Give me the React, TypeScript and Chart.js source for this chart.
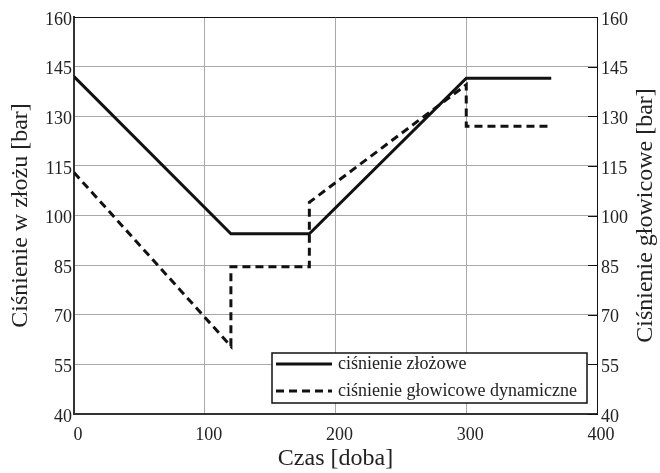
import React, { useEffect, useRef } from "react";
import { Chart, registerables } from "chart.js";

Chart.register(...registerables);

const solidX = [0, 120, 180, 300, 365];
const solidY = [142, 94.5, 94.5, 141.5, 141.5];
const dashX = [0, 120, 120, 180, 180, 300, 300, 365];
const dashY = [113, 60.5, 84.5, 84.5, 104, 139.5, 127, 127];
const seriesLabels = ["ciśnienie złożowe", "ciśnienie głowicowe dynamiczne"];
const xTitle = "Czas [doba]";
const yTitle = "Ciśnienie w złożu [bar]";
const y2Title = "Ciśnienie głowicowe [bar]";
const xMin = 0, xMax = 400, xStep = 100;
const yMin = 40, yMax = 160, yStep = 15;

const FONT = "'Liberation Serif', 'Times New Roman', serif";
const TEXT = "#222";

const extras = {
  id: "extras",
  afterDraw(chart: any) {
    const ctx = chart.ctx;
    const a = chart.chartArea;
    ctx.save();
    ctx.strokeStyle = "#111";
    ctx.lineWidth = 1;
    ctx.beginPath();
    ctx.moveTo(a.left, a.top + 0.5);
    ctx.lineTo(a.right, a.top + 0.5);
    ctx.stroke();
    const y2 = chart.scales.y2;
    y2.ticks.forEach((t: any) => {
      const py = Math.round(y2.getPixelForValue(t.value)) + 0.5;
      ctx.beginPath();
      ctx.moveTo(a.right - 9, py);
      ctx.lineTo(a.right, py);
      ctx.stroke();
    });
    ctx.fillStyle = TEXT;
    ctx.font = `24px ${FONT}`;
    ctx.textAlign = "center";
    ctx.textBaseline = "middle";
    ctx.translate(646, (a.top + a.bottom) / 2);
    ctx.rotate(-Math.PI / 2);
    ctx.fillText(y2Title, 0, 0);
    ctx.restore();

    ctx.save();
    const bx = 272, by = 353, bw = 315, bh = 50;
    ctx.fillStyle = "#fff";
    ctx.fillRect(bx, by, bw, bh);
    ctx.strokeStyle = "#111";
    ctx.lineWidth = 1.5;
    ctx.strokeRect(bx, by, bw, bh);
    const rows = [by + 11, by + 38];
    chart.data.datasets.forEach((ds: any, i: number) => {
      const ry = rows[i];
      ctx.strokeStyle = "#111";
      ctx.lineWidth = 3;
      ctx.setLineDash(ds.borderDash || []);
      ctx.beginPath();
      ctx.moveTo(bx + 4, ry);
      ctx.lineTo(bx + 60, ry);
      ctx.stroke();
      ctx.setLineDash([]);
      ctx.fillStyle = TEXT;
      ctx.font = `18px ${FONT}`;
      ctx.textAlign = "left";
      ctx.textBaseline = "middle";
      ctx.fillText(ds.label, bx + 66, ry);
    });
    ctx.restore();
  },
};

export default function App() {
  const ref = useRef<HTMLCanvasElement>(null);
  useEffect(() => {
    if (!ref.current) return;
    const chart = new Chart(ref.current, {
      type: "line",
      data: {
        datasets: [
          {
            label: seriesLabels[0],
            data: solidX.map((x, i) => ({ x, y: solidY[i] })),
            borderColor: "#111",
            borderWidth: 3,
            pointRadius: 0,
            fill: false,
            tension: 0,
            yAxisID: "y",
          },
          {
            label: seriesLabels[1],
            data: dashX.map((x, i) => ({ x, y: dashY[i] })),
            borderColor: "#111",
            borderWidth: 3,
            borderDash: [8, 5],
            pointRadius: 0,
            fill: false,
            tension: 0,
            yAxisID: "y2",
          },
        ],
      },
      options: {
        animation: false,
        responsive: false,
        devicePixelRatio: 1,
        layout: { padding: { top: 17, left: 0, right: 0, bottom: 0 } },
        plugins: { legend: { display: false }, tooltip: { enabled: false } },
        scales: {
          x: {
            type: "linear",
            min: xMin,
            max: xMax,
            afterFit: (s: any) => { s.height = 59; },
            ticks: { stepSize: xStep, color: TEXT, font: { family: FONT, size: 18 }, padding: 10, maxRotation: 0, labelOffset: 4 },
            grid: { color: "#a8a8a8", lineWidth: 1, drawTicks: false },
            border: { color: "#333", width: 2 },
            title: { display: true, text: xTitle, color: TEXT, font: { family: FONT, size: 24 }, padding: { top: 0, bottom: 0 } },
          },
          y: {
            type: "linear",
            position: "left",
            min: yMin,
            max: yMax,
            afterFit: (s: any) => { s.width = 74; },
            ticks: { stepSize: yStep, color: TEXT, font: { family: FONT, size: 18 }, padding: 2, labelOffset: 3 },
            grid: { color: "#a8a8a8", lineWidth: 1, drawTicks: false },
            border: { color: "#333", width: 2 },
            title: { display: true, text: yTitle, color: TEXT, font: { family: FONT, size: 24 }, padding: { top: 6, bottom: 0 } },
          },
          y2: {
            type: "linear",
            position: "right",
            min: yMin,
            max: yMax,
            afterFit: (s: any) => { s.width = 63; },
            ticks: { stepSize: yStep, color: TEXT, font: { family: FONT, size: 18 }, padding: 4, labelOffset: 3 },
            grid: { drawOnChartArea: false, drawTicks: false },
            border: { color: "#111", width: 1 },
          },
        },
      },
      plugins: [extras],
    } as any);
    return () => chart.destroy();
  }, []);
  return (
    <div style={{ position: "fixed", left: 0, top: 0, width: 660, height: 473, background: "#fff" }}>
      <canvas ref={ref} width={660} height={473} style={{ display: "block" }} />
    </div>
  );
}
